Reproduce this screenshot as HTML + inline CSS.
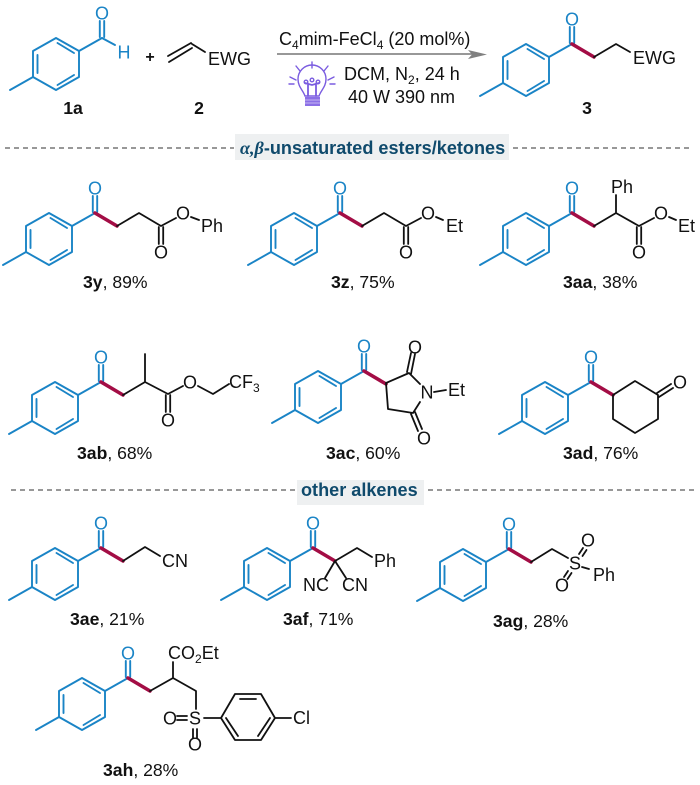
<!DOCTYPE html>
<html><head><meta charset="utf-8"><style>
html,body{margin:0;padding:0;background:#fff}
svg{display:block}
text{font-family:"Liberation Sans",sans-serif;font-size:18px;fill:#111}
.o{fill:#1a84c6;text-anchor:middle;font-size:18px;transform:translateY(.4px)}
.m{text-anchor:middle;font-size:18px;transform:translateY(.4px)}
.c{font-size:17.6px}
.c1{font-weight:bold;font-size:17.6px;text-anchor:middle}
.b{font-weight:bold}
.h{font-weight:bold;fill:#0f4a6c;font-size:18.1px}
.k{fill:none;stroke:#111;stroke-width:1.8;stroke-linecap:round;stroke-linejoin:round}
.t{fill:none;stroke:#1a84c6;stroke-width:1.9;stroke-linecap:round;stroke-linejoin:round}
.r{fill:none;stroke:#a30d45;stroke-width:3.6;stroke-linecap:round}
.p{fill:none;stroke:#7a5ce0;stroke-width:1.4;stroke-linecap:round}
</style></head><body>
<svg width="700" height="785" viewBox="0 0 700 785" xmlns="http://www.w3.org/2000/svg">
<defs>
<g id="t" class="t">
<path d="M0 0L-23 13L-23 39L-46 52L-69 39L-69 13L-46 0L-23 13"/>
<path d="M-69 39L-92 52"/>
<path d="M-44.5 5L-28 15M-64.5 17L-64.5 35M-44.5 47L-28 37"/>
<path d="M-2.2 -1L-2.2 -17M2.2 -1L2.2 -17"/>
</g>
<g id="red" class="r"><path d="M0 0L22 13"/></g>
</defs>

<!-- top scheme -->
<use href="#t" x="102" y="38"/>
<text class="o" x="102" y="19">O</text>
<path class="t" d="M102 38L115 45"/>
<text class="o" x="124" y="58">H</text>
<text x="150" y="62" class="c1" style="font-size:16px">+</text>
<path class="k" d="M168 56L191 43M169 62L192 48M192 44L205 52"/>
<text x="208" y="65">EWG</text>
<text x="73" y="114" class="c1">1a</text>
<text x="199" y="114" class="c1">2</text>

<text x="279" y="45">C<tspan dy="4" font-size="12">4</tspan><tspan dy="-4">mim-FeCl</tspan><tspan dy="4" font-size="12">4</tspan><tspan dy="-4"> (20 mol%)</tspan></text>
<path d="M277 54H472" stroke="#777" stroke-width="1.6" fill="none"/>
<path d="M468 50L487 54.500L468 59L472 54.500Z" fill="#808080"/>
<text x="344" y="80">DCM, N<tspan dy="4" font-size="12">2</tspan><tspan dy="-4">, 24 h</tspan></text>
<text x="348" y="103">40 W 390 nm</text>

<!-- bulb -->
<g class="p">
<path d="M305 96C303 90 298 87 298 79A14 14 0 0 1 326 79C326 87 321 90 319 96Z"/>
<path d="M312 62V68M296 66L300 71M328 66L324 71M290 77L296 80M334 77L328 80M289 84H294M330 84H335"/>
<path d="M308 96V85M316 96V85M305 83L312 85L319 83" stroke-width="1.8"/>
<circle cx="306" cy="82" r="1.8"/><circle cx="312" cy="80" r="1.8"/><circle cx="318" cy="82" r="1.8"/>
</g>
<path d="M305 97H320V106H305Z" fill="#8b6fe6"/>
<path d="M305 100H320M305 103H320" stroke="#d8ccf8" stroke-width=".8"/>

<use href="#t" x="572" y="44"/>
<use href="#red" x="572" y="44"/>
<text class="o" x="572" y="25">O</text>
<path class="k" d="M594 57L616 44L630 52"/>
<text x="633" y="64">EWG</text>
<text x="587" y="114" class="c1">3</text>

<!-- divider 1 -->
<path d="M5 148H234M513 148H690" stroke="#777" stroke-width="1.4" stroke-dasharray="5 4" fill="none"/>
<rect x="235" y="134" width="274" height="26" fill="#eef0f1"/>
<text x="240" y="154" class="h"><tspan font-style="italic" style="font-family:'Liberation Serif',serif">α,β</tspan>-unsaturated esters/ketones</text>

<!-- 3y -->
<use href="#t" x="95" y="213"/><use href="#red" x="95" y="213"/>
<text class="o" x="95" y="194">O</text>
<path class="k" d="M117 226L139 213L161 226L176 218M158.800 227V244M163.200 227V244M191 217L199 220"/>
<text class="m" x="161" y="258">O</text>
<text class="m" x="183" y="219">O</text>
<text x="201" y="232">Ph</text>
<text x="83" y="288" class="c"><tspan class="b">3y</tspan>, 89%</text>

<!-- 3z -->
<use href="#t" x="340" y="213"/><use href="#red" x="340" y="213"/>
<text class="o" x="340" y="194">O</text>
<path class="k" d="M362 226L384 213L406 226L421 218M403.800 227V244M408.200 227V244M436 217L443 220"/>
<text class="m" x="406" y="258">O</text>
<text class="m" x="428" y="219">O</text>
<text x="446" y="232">Et</text>
<text x="331" y="288" class="c"><tspan class="b">3z</tspan>, 75%</text>

<!-- 3aa -->
<use href="#t" x="572" y="213"/><use href="#red" x="572" y="213"/>
<text class="o" x="572" y="194">O</text>
<path class="k" d="M594 226L616 213L639 226L654 218M636.800 227V244M641.200 227V244M616 213V195M669 217L676 220"/>
<text class="m" x="639" y="258">O</text>
<text class="m" x="661" y="219">O</text>
<text x="678" y="232">Et</text>
<text x="611" y="193">Ph</text>
<text x="563" y="288" class="c"><tspan class="b">3aa</tspan>, 38%</text>

<!-- 3ab -->
<use href="#t" x="101" y="382"/><use href="#red" x="101" y="382"/>
<text class="o" x="101" y="363">O</text>
<path class="k" d="M123 395L145 382L168 394L183 386M165.800 395V412M170.200 395V412M145 382V354M198 386L213 394L229 384"/>
<text class="m" x="168" y="426">O</text>
<text class="m" x="190" y="388">O</text>
<text x="229" y="388">CF<tspan dy="4" font-size="12">3</tspan></text>
<text x="77" y="459" class="c"><tspan class="b">3ab</tspan>, 68%</text>

<!-- 3ac -->
<use href="#t" x="364" y="371"/><use href="#red" x="364" y="371"/>
<text class="o" x="364" y="352">O</text>
<path class="k" d="M386 383L409 373L420 384M420 402L413 413L388 409L386 383M407 372L411 353M411 374L415 354M411 414L418 431M415 412L422 429M434 392L446 390"/>
<text class="m" x="415" y="353">O</text>
<text class="m" x="424" y="444">O</text>
<text class="m" x="427" y="398">N</text>
<text x="448" y="396">Et</text>
<text x="326" y="459" class="c"><tspan class="b">3ac</tspan>, 60%</text>

<!-- 3ad -->
<use href="#t" x="591" y="382"/><use href="#red" x="591" y="382"/>
<text class="o" x="591" y="363">O</text>
<path class="k" d="M613 395L635 381L658 395L658 419L635 433L613 419ZM657 393L671 384M659 397L673 388"/>
<text class="m" x="680" y="388">O</text>
<text x="563" y="459" class="c"><tspan class="b">3ad</tspan>, 76%</text>

<!-- divider 2 -->
<path d="M11 490H296M428 490H695" stroke="#777" stroke-width="1.4" stroke-dasharray="5 4" fill="none"/>
<rect x="297" y="480" width="127" height="25" fill="#eef0f1"/>
<text x="301" y="496" class="h">other alkenes</text>

<!-- 3ae -->
<use href="#t" x="101" y="548"/><use href="#red" x="101" y="548"/>
<text class="o" x="101" y="529">O</text>
<path class="k" d="M123 561L145 547L160 556"/>
<text x="162" y="567">CN</text>
<text x="70" y="625" class="c"><tspan class="b">3ae</tspan>, 21%</text>

<!-- 3af -->
<use href="#t" x="313" y="548"/><use href="#red" x="313" y="548"/>
<text class="o" x="313" y="529">O</text>
<path class="k" d="M335 561L357 548L372 557M335 561L325 578M335 561L346 578"/>
<text x="374" y="567">Ph</text>
<text x="303" y="591">NC</text>
<text x="342" y="591">CN</text>
<text x="283" y="625" class="c"><tspan class="b">3af</tspan>, 71%</text>

<!-- 3ag -->
<use href="#t" x="509" y="549"/><use href="#red" x="509" y="549"/>
<text class="o" x="509" y="530">O</text>
<path class="k" d="M531 562L552 549L568 558M579 554L583 548M582.500 556L586.500 550M568 571L564 577M571.500 573L567.500 579M582 567L589 569"/>
<text class="m" x="575" y="569">S</text>
<text class="m" x="588" y="546">O</text>
<text class="m" x="562" y="591">O</text>
<text x="593" y="581">Ph</text>
<text x="493" y="627" class="c"><tspan class="b">3ag</tspan>, 28%</text>

<!-- 3ah -->
<use href="#t" x="128" y="678"/><use href="#red" x="128" y="678"/>
<text class="o" x="128" y="659">O</text>
<path class="k" d="M150 691L173 678L196 691V709M173 678V662M177 716H187M177 720H187M193 729V738M197 729V738M204 718H221L235 694H261L275 718L261 740H235L221 718M240 699H256M226 718L238 736M270 718L258 736M275 718H291"/>
<text x="168" y="659">CO<tspan dy="4" font-size="12">2</tspan><tspan dy="-4">Et</tspan></text>
<text class="m" x="170" y="724">O</text>
<text class="m" x="195" y="724">S</text>
<text class="m" x="195" y="750">O</text>
<text x="293" y="724">Cl</text>
<text x="103" y="776" class="c"><tspan class="b">3ah</tspan>, 28%</text>
</svg>
</body></html>
